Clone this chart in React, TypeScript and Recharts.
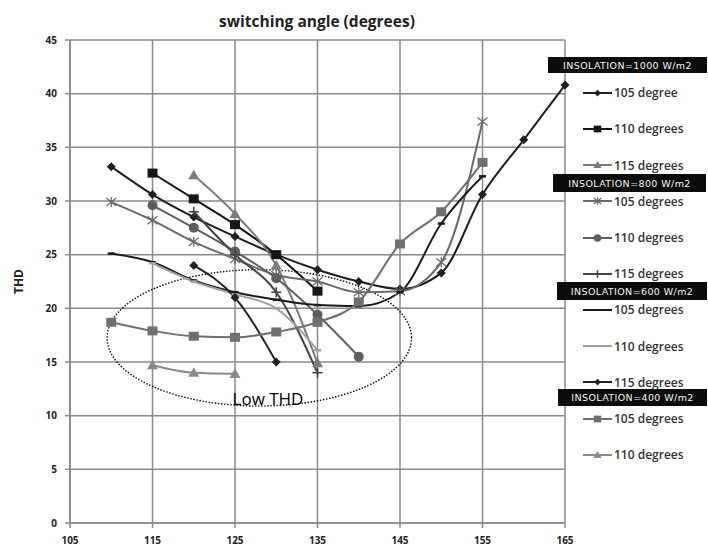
import React from "react";
import { LineChart, Line, XAxis, YAxis, CartesianGrid, Legend, ReferenceArea, ReferenceDot } from "recharts";

// axis ticks
const xTicks = [105, 115, 125, 135, 145, 155, 165];
const yTicks = [0, 5, 10, 15, 20, 25, 30, 35, 40, 45];

// insolation = 1000 W/m2
const ang1000a = [110, 115, 120, 125, 130, 135, 140, 145, 150, 155, 160, 165];
const thd1000a = [33.2, 30.6, 28.5, 26.7, 25.0, 23.6, 22.5, 21.8, 23.3, 30.6, 35.7, 40.8];
const ang1000b = [115, 120, 125, 130, 135];
const thd1000b = [32.6, 30.2, 27.8, 25.0, 21.6];
const ang1000c = [120, 125, 130, 135];
const thd1000c = [32.4, 28.8, 24.0, 14.9];

// insolation = 800 W/m2
const ang800a = [110, 115, 120, 125, 130, 135, 140, 145, 150, 155];
const thd800a = [29.9, 28.2, 26.2, 24.6, 23.1, 22.5, 21.5, 21.6, 24.3, 37.4];
const ang800b = [115, 120, 125, 130, 135, 140];
const thd800b = [29.6, 27.5, 25.3, 22.8, 19.4, 15.5];
const ang800c = [120, 125, 130, 135];
const thd800c = [29.0, 25.0, 21.5, 14.0];

// insolation = 600 W/m2
const ang600a = [110, 115, 120, 125, 130, 135, 140, 145, 150, 155];
const thd600a = [25.1, 24.3, 22.6, 21.5, 20.8, 20.3, 20.2, 21.5, 27.9, 32.3];
const ang600b = [115, 120, 125, 130, 135];
const thd600b = [24.2, 22.5, 21.3, 20.0, 16.1];
const ang600c = [120, 125, 130];
const thd600c = [24.0, 21.0, 15.0];

// insolation = 400 W/m2
const ang400a = [110, 115, 120, 125, 130, 135, 140, 145, 150, 155];
const thd400a = [18.7, 17.9, 17.4, 17.3, 17.8, 18.7, 20.6, 26.0, 29.0, 33.6];
const ang400b = [115, 120, 125];
const thd400b = [14.7, 14.0, 13.9];

const groupTitles = ["INSOLATION=1000 W/m2", "INSOLATION=800 W/m2", "INSOLATION=600 W/m2", "INSOLATION=400 W/m2"];
const seriesNames = [
  "105 degree", "110 degrees", "115 degrees",
  "105 degrees", "110 degrees", "115 degrees",
  "105 degrees", "110 degrees", "115 degrees",
  "105 degrees", "110 degrees",
];

const toRows = (xs: number[], ys: number[]) => xs.map((x, i) => ({ angle: x, thd: ys[i] }));

const series = [
  { data: toRows(ang1000a, thd1000a), color: "#1e1e1e", shape: "diamond" },
  { data: toRows(ang1000b, thd1000b), color: "#161616", shape: "square" },
  { data: toRows(ang1000c, thd1000c), color: "#7a7a7a", shape: "triangle" },
  { data: toRows(ang800a, thd800a), color: "#6a6a6a", shape: "star" },
  { data: toRows(ang800b, thd800b), color: "#5e5e5e", shape: "circle" },
  { data: toRows(ang800c, thd800c), color: "#444444", shape: "plus" },
  { data: toRows(ang600a, thd600a), color: "#1a1a1a", shape: "dash", legendPlain: true },
  { data: toRows(ang600b, thd600b), color: "#a0a0a0", shape: "dash", legendPlain: true },
  { data: toRows(ang600c, thd600c), color: "#222222", shape: "diamond" },
  { data: toRows(ang400a, thd400a), color: "#6f6f6f", shape: "square" },
  { data: toRows(ang400b, thd400b), color: "#8a8a8a", shape: "triangle" },
];

const headerBoxes = [
  { left: 548, top: 57, width: 159, height: 16 },
  { left: 553, top: 174, width: 153, height: 18 },
  { left: 557, top: 282, width: 150, height: 18 },
  { left: 558, top: 389, width: 149, height: 17 },
];

const font = "'Open Sans', 'DejaVu Sans', sans-serif";

function Marker({ shape, x, y, color, s = 1 }: any) {
  switch (shape) {
    case "diamond": {
      const r = 4.5 * s;
      return <path d={`M${x},${y - r}L${x + r},${y}L${x},${y + r}L${x - r},${y}Z`} fill={color} />;
    }
    case "square": {
      const r = 5 * s;
      return <rect x={x - r} y={y - r * 0.9} width={2 * r} height={1.8 * r} fill={color} />;
    }
    case "triangle": {
      const r = 5.5 * s;
      return <path d={`M${x},${y - r}L${x + r},${y + r * 0.75}L${x - r},${y + r * 0.75}Z`} fill={color} />;
    }
    case "circle":
      return <circle cx={x} cy={y} r={5 * s} fill={color} />;
    case "star": {
      const r = 5 * s;
      return (
        <g stroke={color} strokeWidth={1.3}>
          <line x1={x - r} y1={y - r * 0.8} x2={x + r} y2={y + r * 0.8} />
          <line x1={x - r} y1={y + r * 0.8} x2={x + r} y2={y - r * 0.8} />
          <line x1={x} y1={y - r} x2={x} y2={y + r} />
        </g>
      );
    }
    case "plus": {
      const r = 5 * s;
      return (
        <g stroke={color} strokeWidth={1.6}>
          <line x1={x - r} y1={y} x2={x + r} y2={y} />
          <line x1={x} y1={y - r} x2={x} y2={y + r} />
        </g>
      );
    }
    case "dash":
      return <line x1={x - 3.5} y1={y} x2={x + 3.5} y2={y} stroke={color} strokeWidth={2.5} />;
    default:
      return null;
  }
}

const makeDot = (shape: string, color: string) => (p: any) => (
  <g key={`d-${p.index}`}>
    {p.cx != null && p.cy != null ? <Marker shape={shape} x={p.cx} y={p.cy} color={color} /> : null}
  </g>
);

const LegendPanel = () => (
  <div style={{ position: "absolute", left: 0, top: 0, width: 708, height: 547, pointerEvents: "none", fontFamily: font }}>
    {groupTitles.map((t, i) => (
      <div
        key={t}
        style={{
          position: "absolute", ...headerBoxes[i], background: "#0c0c0c", color: "#f4f4f4",
          fontSize: 9.5, letterSpacing: 0.4, display: "flex", alignItems: "center", justifyContent: "center",
          fontFamily: "'DejaVu Sans', sans-serif",
        }}
      >
        {t}
      </div>
    ))}
    {series.map((s, i) => (
      <div key={i} style={{ position: "absolute", left: 582, top: 92.7 + i * 36.2 - 9, height: 18, display: "flex", alignItems: "center" }}>
        <svg width={32} height={16}>
          <line x1={1} y1={8} x2={30} y2={8} stroke={s.color} strokeWidth={2} />
          {!s.legendPlain && <Marker shape={s.shape} x={15.5} y={8} color={s.color} s={0.75} />}
        </svg>
        <span style={{ fontSize: 12, fontWeight: 600, color: "#333", marginLeft: 0 }}>{seriesNames[i]}</span>
      </div>
    ))}
  </div>
);

const tickStyle = { fontSize: 10, fontWeight: 700, fill: "#222", fontFamily: font };

export default function App() {
  return (
    <div style={{ position: "absolute", left: 0, top: 0, width: 708, height: 547, background: "#fff" }}>
      <div style={{ position: "absolute", left: 0, width: 634, top: 10, textAlign: "center", fontFamily: font, fontWeight: 700, fontSize: 15.5, color: "#222" }}>
        switching angle (degrees)
      </div>
      <LineChart width={708} height={547} margin={{ top: 40, right: 143, bottom: 4, left: 8 }}>
        <CartesianGrid stroke="#8a8a8a" strokeWidth={1.5} />
        <XAxis
          type="number"
          dataKey="angle"
          domain={[105, 165]}
          ticks={xTicks}
          height={20}
          tick={tickStyle}
          tickSize={5}
          tickMargin={9}
          stroke="#8a8a8a"
          strokeWidth={1.5}
          allowDuplicatedCategory={false}
        />
        <YAxis
          type="number"
          domain={[0, 45]}
          ticks={yTicks}
          width={62}
          tick={tickStyle}
          tickSize={5}
          tickMargin={8}
          stroke="#8a8a8a"
          strokeWidth={1.5}
          label={{
            content: ({ viewBox }: any) => (
              <text
                x={18}
                y={viewBox.y + viewBox.height / 2}
                transform={`rotate(-90 18 ${viewBox.y + viewBox.height / 2})`}
                textAnchor="middle"
                dominantBaseline="central"
                fontFamily={font}
                fontWeight={700}
                fontSize={12}
                fill="#222"
              >
                THD
              </text>
            ),
          }}
        />
        <ReferenceArea
          x1={109.5}
          x2={146.4}
          y1={10.9}
          y2={23.6}
          ifOverflow="visible"
          shape={(p: any) => (
            <ellipse
              cx={p.x + p.width / 2}
              cy={p.y + p.height / 2}
              rx={p.width / 2}
              ry={p.height / 2}
              fill="none"
              stroke="#111"
              strokeWidth={1.6}
              strokeDasharray="0.1 3"
              strokeLinecap="round"
            />
          )}
        />
        <ReferenceDot
          x={129}
          y={11.6}
          r={0}
          fill="none"
          stroke="none"
          ifOverflow="visible"
          label={{ value: "Low THD", position: "center", fontSize: 17, fontWeight: 500, fill: "#000", fontFamily: font }}
        />
        {series.map((s, i) => (
          <Line
            key={i}
            data={s.data}
            dataKey="thd"
            type="monotone"
            stroke={s.color}
            strokeWidth={2}
            dot={makeDot(s.shape, s.color)}
            activeDot={false}
            isAnimationActive={false}
            name={seriesNames[i]}
          />
        ))}
        <Legend content={<LegendPanel />} wrapperStyle={{ left: 0, top: 0, width: 0, height: 0 }} />
      </LineChart>
    </div>
  );
}
